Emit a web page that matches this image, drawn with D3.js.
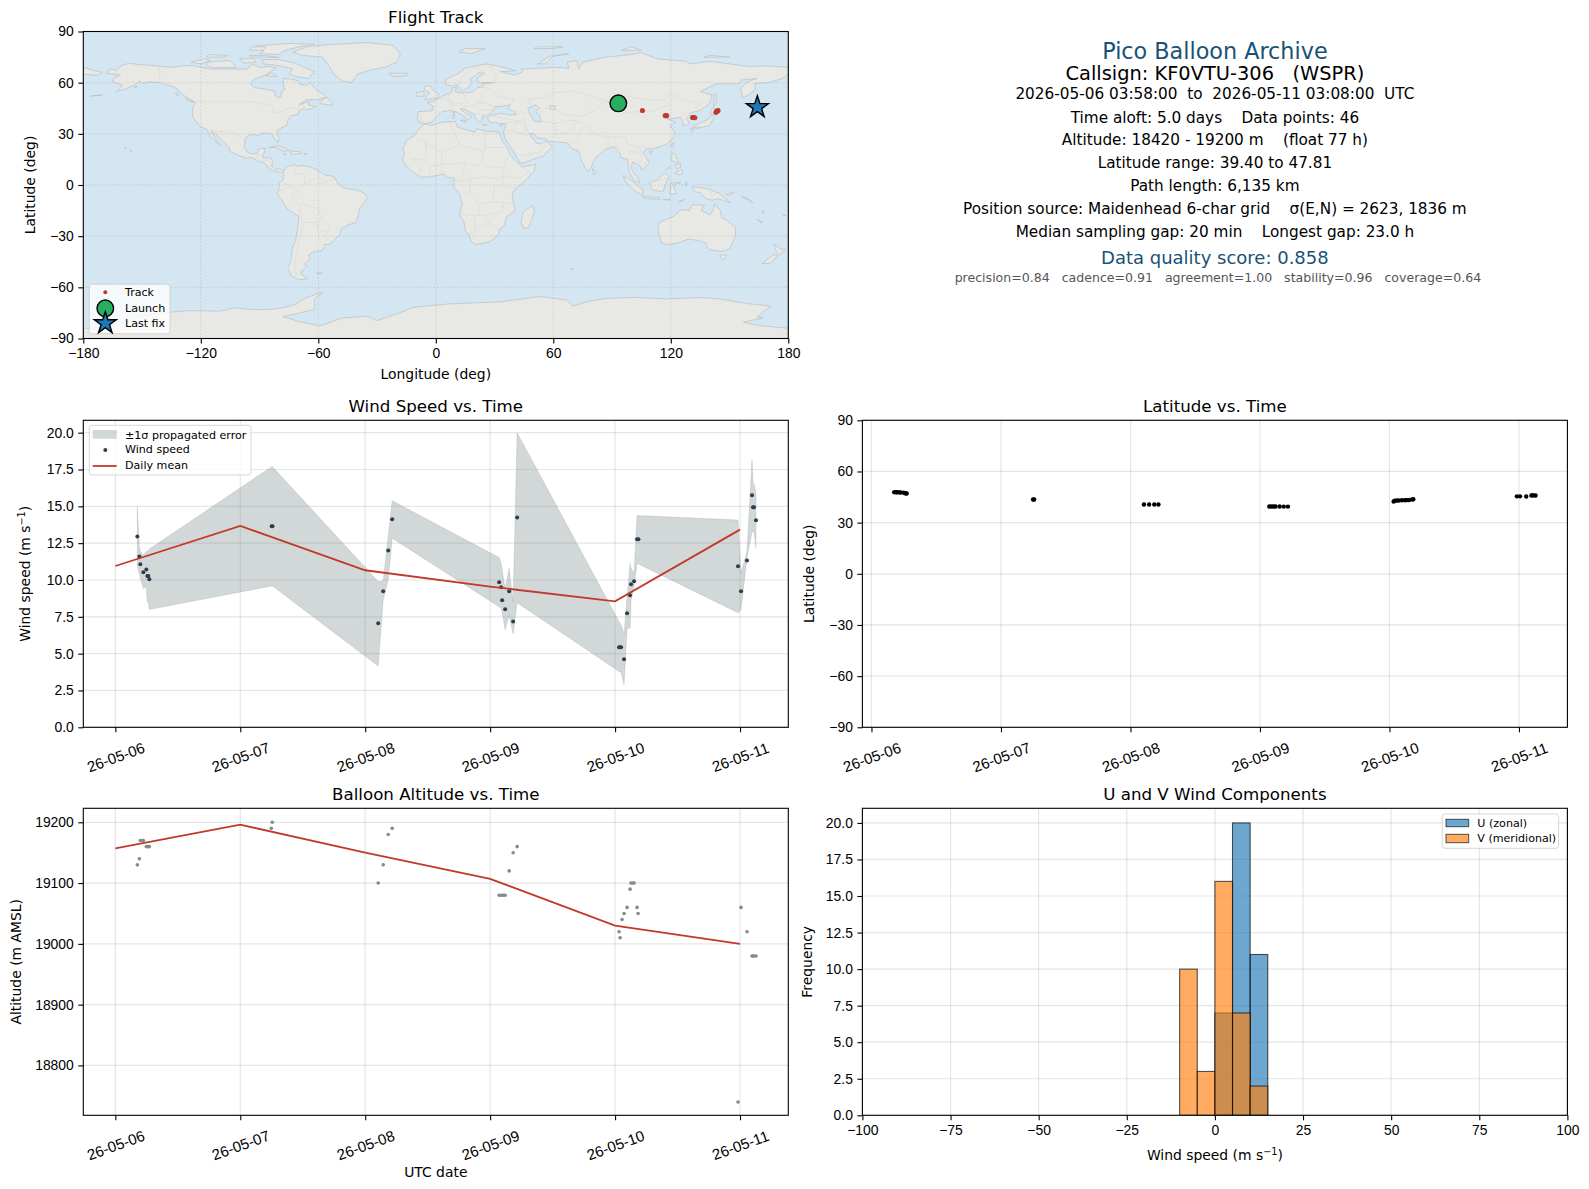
<!doctype html>
<html lang="en">
<head>
<meta charset="UTF-8">
<title>Pico Balloon Archive</title>
<script src="https://cdn.jsdelivr.net/npm/d3@7"></script>
<style>
    body { margin: 0; background: #fff; }
    svg { display: block; font-family: "DejaVu Sans", sans-serif; }
    .tick text { font-size: 13.9px; fill: #000; }
    .tick line { stroke: #000; stroke-width: 1.1; }
    .title { font-size: 16.67px; text-anchor: middle; }
    .label { font-size: 13.9px; text-anchor: middle; }
    .legend-text { font-size: 11.1px; dominant-baseline: central; }
    .info { text-anchor: middle; dominant-baseline: central; }
</style>
</head>
<body>
<svg id="fig" width="1589" height="1189"></svg>
<script>
// ---- data ----
// time is in days since 2026-05-06 00:00 UTC
const dateLabels = ["26-05-06", "26-05-07", "26-05-08", "26-05-09", "26-05-10", "26-05-11"];
const dateTicks = [0, 1, 2, 3, 4, 5];

const windTimes = [0.176, 0.192, 0.2, 0.224, 0.248, 0.256, 0.264, 0.272, 1.251, 1.258,
    2.104, 2.144, 2.184, 2.216,
    3.072, 3.088, 3.096, 3.12, 3.152, 3.184, 3.216,
    4.032, 4.04, 4.048, 4.072, 4.096, 4.12, 4.128, 4.152, 4.176, 4.187,
    4.984, 5.008, 5.056, 5.096, 5.104, 5.112, 5.128];
const windSpeed = [12.96, 11.6, 11.06, 10.52, 10.72, 10.27, 10.27, 10.05, 13.64, 13.64,
    7.06, 9.23, 12.01, 14.12,
    9.84, 9.5, 8.62, 8.01, 9.23, 7.19, 14.25,
    5.43, 5.43, 5.43, 4.62, 7.74, 8.96, 9.71, 9.91, 12.76, 12.76,
    10.93, 9.23, 11.33, 15.75, 14.93, 14.93, 14.05];
const windUpper = [14.98, 12.26, 11.97, 11.7, 11.92, 11.95, 11.95, 12.1, 17.69, 17.69,
    9.89, 9.95, 12.96, 15.38,
    11.52, 11.13, 10.68, 9.43, 10.79, 8.53, 20.0,
    7.17, 7.05, 6.95, 6.33, 8.87, 11.13, 10.79, 10.45, 14.39, 14.37,
    14.07, 10.45, 11.95, 18.19, 16.56, 16.52, 15.88];
const windLower = [10.95, 10.45, 10.11, 9.43, 9.55, 8.53, 8.53, 8.0, 9.59, 9.59,
    4.16, 8.64, 10.0, 12.83,
    8.19, 8.08, 7.85, 6.6, 7.62, 6.33, 8.46,
    3.78, 3.75, 3.73, 2.87, 6.72, 6.72, 8.64, 9.55, 11.13, 11.09,
    7.78, 7.96, 11.5, 13.28, 13.28, 13.24, 12.15];
const dailyDays = [0, 1, 2, 3, 4, 5];
const dailyWind = [10.95, 13.67, 10.66, 9.55, 8.55, 13.42];
const dailyAlt = [19157, 19196, 19150, 19107, 19030, 19000];

const fixTimes = [0.176, 0.192, 0.2, 0.216, 0.224, 0.248, 0.256, 0.264, 0.272,
    1.248, 1.256,
    2.104, 2.144, 2.184, 2.216,
    3.072, 3.088, 3.104, 3.12, 3.152, 3.184, 3.216,
    4.032, 4.04, 4.056, 4.072, 4.096, 4.12, 4.128, 4.144, 4.152, 4.176, 4.184,
    4.984, 5.008, 5.056, 5.096, 5.104, 5.112, 5.128];
const fixAlt = [19130, 19140, 19170, 19170, 19170, 19160, 19160, 19160, 19160,
    19190, 19200,
    19100, 19130, 19180, 19190,
    19080, 19080, 19080, 19080, 19120, 19150, 19160,
    19020, 19010, 19040, 19050, 19060, 19090, 19100, 19100, 19100, 19060, 19050,
    18740, 19060, 19020, 18980, 18980, 18980, 18980];
const fixLat = [47.8, 47.8, 47.8, 47.75, 47.7, 47.6, 47.3, 47.2, 47.1,
    43.6, 43.6,
    40.6, 40.6, 40.6, 40.6,
    39.45, 39.45, 39.45, 39.45, 39.45, 39.4, 39.4,
    42.4, 42.8, 43, 43, 43.1, 43.1, 43.2, 43.2, 43.3, 43.6, 43.7,
    45.4, 45.4, 45.3, 45.9, 46, 46, 45.9];
const fixLon = [92.6, 92.8, 93, 93.2, 93.4, 93.6, 93.8, 94, 94.2,
    105.4, 105.6,
    117, 117.3, 117.7, 118,
    131, 131.2, 131.4, 131.6, 131.8, 132.1, 132.4,
    143, 143.1, 143.2, 143.3, 143.4, 143.5, 143.6, 143.7, 143.8, 144, 144.2,
    163, 163.4, 163.7, 164, 164.3, 164.6, 165];
const launchFix = [93.2, 47.9];
const lastFix = [164.2, 45.6];

const binEdges = [-10, -5, 0, 5, 10, 15];
const uCounts = [0, 0, 7, 20, 11];
const vCounts = [10, 3, 16, 7, 2];

const infoText = [
    "Pico Balloon Archive",
    "Callsign: KF0VTU-306   (WSPR)",
    "2026-05-06 03:58:00  to  2026-05-11 03:08:00  UTC",
    "Time aloft: 5.0 days    Data points: 46",
    "Altitude: 18420 - 19200 m    (float 77 h)",
    "Latitude range: 39.40 to 47.81",
    "Path length: 6,135 km",
    "Position source: Maidenhead 6-char grid    σ(E,N) = 2623, 1836 m",
    "Median sampling gap: 20 min    Longest gap: 23.0 h",
    "Data quality score: 0.858",
    "precision=0.84   cadence=0.91   agreement=1.00   stability=0.96   coverage=0.64"
];

// rough coastlines, [lon, lat] pairs
const landPolygons = [
    // North America
    [[-168,65.5],[-166,68.3],[-163,67],[-161,70],[-156.5,71.3],[-150,70.5],[-141,69.7],[-135,69],[-128,70],[-124,70],[-115,68],[-108,68],[-100,68],[-96,68],[-94,71],[-90,69],[-85,69.5],[-81.5,68.5],[-85,66],[-87,64.5],[-93,62],[-94.5,59],[-92.5,57],[-88,56.5],[-82.5,55],[-82,52.5],[-80,51.3],[-79,52],[-79,54.5],[-77,56],[-78,59],[-78,62.5],[-73,62],[-70,61],[-69.5,59],[-66,58.5],[-64.5,60.3],[-61,56],[-57,53],[-56,51.5],[-60,50],[-66,50],[-70,47],[-65,49],[-65,47],[-61,46],[-64,44.5],[-66,44],[-67,45],[-70,43.5],[-70,41.7],[-74,40.5],[-75.5,38],[-76,35],[-78,34],[-81,32],[-81,30],[-80,27],[-80.5,25.2],[-81.8,26],[-82.8,28],[-84,30],[-86,30.4],[-89,30.3],[-90,29.2],[-94,29.6],[-97,28],[-97.5,25],[-97.8,22],[-96,19],[-94,18.2],[-91,18.7],[-90.5,21],[-87,21.5],[-87.8,18.3],[-88.5,16],[-84,15.8],[-83.3,14],[-83.8,11],[-82,9],[-79.5,9.5],[-77.3,8.7],[-78,7.5],[-80,7.5],[-83,8.2],[-85.5,10],[-87.5,13],[-91,14],[-94,16],[-97,15.8],[-101,17.5],[-105,19.5],[-105.5,22],[-109,26],[-112.5,30],[-114.7,31.5],[-113,28],[-110,23],[-112,25],[-115,28],[-117,32.5],[-120.5,34.5],[-122.5,37.5],[-124.3,40.5],[-124,46],[-122.5,48],[-125,50],[-128,52],[-130.5,54.5],[-133,57],[-137,58.5],[-140,59.8],[-146,60.5],[-150,59.5],[-151,61],[-154,58.5],[-158,56.5],[-163,54.8],[-160,58.5],[-165,60.5],[-164,63],[-161,64.5]],
    // Greenland
    [[-73,78],[-66,81],[-55,82.3],[-35,83.5],[-22,82],[-18,77],[-20,72],[-26,69],[-33,67.5],[-40,65],[-43,60],[-48,61],[-52,65],[-54,69],[-58,75],[-68,76]],
    // Canadian arctic
    [[-80,73.5],[-72,71.5],[-68,69.5],[-62,66.5],[-65,62.5],[-71,63.5],[-75,65],[-73,68],[-80,70],[-88,71],[-89,73.5]],
    [[-117,72],[-105,73],[-102,69],[-114,68.8],[-117,70]],
    [[-90,77],[-80,76.5],[-78,78.5],[-70,81],[-62,82.5],[-75,83],[-92,81.5],[-88,78.5]],
    [[-125,72],[-118,74],[-115,73],[-120,71]],
    [[-95,75],[-85,75],[-80,74.7],[-88,76],[-95,76]],
    [[-117,75],[-108,75],[-106,76],[-116,76.5]],
    [[-95,79],[-88,79],[-87,81],[-94,81]],
    [[-100,74],[-93,74],[-92,72],[-98,71.5]],
    [[-87,64],[-81,63.5],[-84,65.8]],
    [[-59,47.7],[-53,46.7],[-53,48.5],[-56,51.5],[-59,48.5]],
    [[-128,50.8],[-123.5,48.4],[-125,48.7]],
    [[-133,54],[-131.5,54],[-131.5,52],[-132,52.5]],
    // Caribbean, Pacific odds and ends
    [[-85,22],[-80,23],[-75,20.5],[-74.5,20],[-78,20],[-82,22]],
    [[-74,19.8],[-69,19.5],[-68.5,18.5],[-74,18]],
    [[-78,18.4],[-76.3,18],[-77.5,17.8]],
    [[-67,18.5],[-65.7,18.4],[-67,18]],
    [[-156,20.6],[-155,19.8],[-155.6,19]],
    [[-159,22],[-157.8,21.5],[-158.2,21.3]],
    [[-176,52],[-170,52.8],[-176,52.4]],
    [[-154,57.5],[-152.5,58],[-153,57]],
    // South America
    [[-77.3,8.7],[-75.5,11],[-72,12],[-71,11],[-68,11.5],[-64,10.5],[-60,8.5],[-57,6],[-52,5],[-50,1],[-48,-1],[-44,-2.5],[-40,-3],[-36,-5],[-35,-8],[-37,-11],[-39,-14],[-39.5,-18],[-41,-22],[-45,-23.5],[-48.5,-26],[-49,-29],[-52,-32.5],[-54,-34.5],[-57,-35],[-57,-36.5],[-58,-38.5],[-62,-39],[-65,-41],[-64,-43],[-67,-46],[-66,-48],[-69,-51],[-68,-53],[-65.5,-55],[-70,-55.5],[-74,-53],[-75.5,-49],[-74,-44],[-73.5,-38],[-71.5,-32],[-70.5,-25],[-70,-18.5],[-76,-14],[-79,-8],[-81,-5],[-80,-2],[-80,1],[-78,3],[-77.5,6],[-78,7.5]],
    [[-61,-51.5],[-58,-51.5],[-59,-52.3]],
    // Africa
    [[-6,35.8],[-2,35],[3,36.8],[10,37.3],[11,34],[15,32.5],[20,31],[21,33],[25,31.7],[32,31.2],[32.5,30],[34,26],[37,21],[38,18],[40,15],[43,12],[44,10.5],[51,12],[50,8],[46,3],[41,-2],[39,-5],[39.5,-10],[40.5,-15],[36,-19],[35,-24],[32.5,-26],[32,-29],[28,-33],[25,-34],[20,-34.8],[18,-33],[17,-29],[15,-27],[14.5,-22],[12,-17],[13.5,-11],[12,-5],[9,-1],[9.5,4],[6,4.5],[4,6.4],[-2,5],[-7.5,4.5],[-11,7],[-15,11],[-17,14.7],[-16,19],[-17,21],[-15,26],[-11,29],[-9.5,31.5]],
    [[49.3,-12],[50.5,-15.5],[47.5,-25],[45,-25.5],[43.5,-22],[44.5,-16]],
    // Eurasia
    [[-9,37],[-9.5,39],[-9,43],[-2,43.5],[-1,46],[-4.5,48.4],[-1.5,49],[2,51],[5,53],[8,54],[8.5,57],[10.5,57.5],[10,54.5],[14,54],[19,54.5],[21,57],[24,57.5],[24,59.3],[30,60],[23,60],[21,61],[21.5,63],[25,65.5],[22,65.8],[17.5,62],[18.5,60],[16.5,57],[14,55.5],[12.5,56],[11,59],[8,58],[5,59],[5,62],[11,65],[15,68.5],[21,70],[26,71],[31,70],[41,67],[33,66.5],[40,64.5],[44,66],[44,68],[54,68.5],[60,69],[68,68.5],[67,72],[72,73],[73,68],[75,72],[81,73.5],[87,75],[100,76.5],[105,77.7],[113,74],[128,72.5],[130,71],[140,72.5],[150,71],[160,69.5],[170,69.8],[180,69],[180,65],[177,62.5],[170,60],[163,59.5],[163,56],[160,53],[156.5,51],[155.7,57],[160,61],[164,62.5],[156,61.5],[155,59.3],[143,59.3],[135,54.7],[141,53],[140,48],[135,43.7],[130.5,42.5],[128,39],[129.5,36],[126.5,34.5],[126,37],[125,39.7],[121.5,39],[118,39],[121,37.5],[122.5,36.8],[119.5,35],[122,31],[121.5,28],[118,24],[114,22.3],[110,21],[108,21.5],[106,19],[109,13],[107,10.5],[105,8.7],[105,10.5],[100.5,13.5],[99.5,10],[103.3,4],[104,1.3],[101,3],[98.5,8],[98,15],[94.5,16],[94,19],[91,22.5],[87,21],[82,16.5],[80,13],[79.5,10],[77.5,8],[74.5,14],[72.8,20],[70,21],[67,24.8],[61,25.2],[57,25.8],[56.5,27],[52,27.5],[50,30],[48,30],[50,26.5],[51.5,24.5],[54,24],[56.3,26],[59.5,22.5],[55,17],[52,16],[45,13],[43,13],[39,21],[35,28],[34.5,31],[36,36],[32,36.2],[27.5,36.7],[26.3,39.5],[29,41],[33,42],[38,41],[41.5,41.5],[37,45],[38,47],[33,46],[30.5,46],[28,42],[26,40.7],[23.5,40],[24,38],[22.5,36.5],[20,39.5],[19.5,41.5],[14,45],[12.5,44.5],[16,41.5],[18.5,40],[16,38],[15,40],[10.5,43],[7,43.7],[3,43],[0,39.5],[-2,36.8],[-5.5,36]],
    [[-180,69],[-175,67.3],[-170,66],[-173,64.3],[-180,65]],
    // European islands
    [[-5.5,50],[1,51.3],[1.5,53],[-2,56],[-2,57.7],[-5,58.5],[-6,56],[-3,54],[-5,52]],
    [[-10,52],[-6,52.2],[-6,55],[-10,54]],
    [[-24,65.5],[-14,65.5],[-15,64],[-22,63.7]],
    [[12.5,38],[15.5,38],[15,36.7]],
    [[8.3,41],[9.7,41],[9.5,39],[8.5,39]],
    [[8.7,43],[9.5,42.8],[9.3,41.5]],
    [[23.5,35.5],[26.3,35.2],[24.5,35]],
    [[32.5,35],[34.5,35.6],[33.5,34.7]],
    // Russian arctic
    [[12,78],[18,77],[25,80],[15,80]],
    [[52,71],[56,71],[60,75.5],[68,77],[58,75.5]],
    [[95,79],[105,79],[100,81]],
    [[137,75],[145,75],[150,75],[140,76]],
    [[50,80],[60,80],[65,81],[52,81]],
    [[142,46],[143.5,49],[143,54],[142,53],[142,48]],
    // Japan, east Asia
    [[130.9,34],[135,33.5],[140,35],[142,39.5],[141,41.3],[139.8,39],[136.5,37],[132,35]],
    [[140,42],[141.5,45.4],[145.5,43.3],[143,42]],
    [[130,33],[132,33],[131,31]],
    [[132.5,34],[134.5,34.2],[133,33]],
    [[120,23],[121.5,25],[121,22]],
    [[108.8,19.5],[110.5,20],[110,18.3]],
    [[80,9.7],[82,7],[80.5,6]],
    // Maritime south-east Asia
    [[95.5,5.5],[100,2.5],[106,-3],[105.5,-6],[101,-3],[97,2]],
    [[105.5,-6.5],[114.5,-7.5],[114,-8.7],[106,-7.5]],
    [[109,1.5],[113,3],[117,7],[119,5],[117.5,1],[116,-4],[111,-3],[109.5,0]],
    [[119.5,-5.5],[120,1],[125,1.5],[121,0],[123,-5]],
    [[131,-1],[138,-2],[145,-5],[150.5,-10.5],[144,-8],[141,-9],[138,-8],[135,-4.5],[132,-4]],
    [[120.5,18.5],[122,18.5],[124,13],[120.5,14]],
    [[122,7],[125.5,9.5],[126,6.5],[124,6]],
    [[122,11.5],[125,12.5],[125,10.5],[123,9.5]],
    [[117.5,8.5],[119.5,11],[118,9]],
    [[124,-9.5],[127,-8.5],[124,-10.3]],
    [[116,-8.5],[120,-8.4],[119,-9]],
    [[127.5,2],[128.5,1],[127.8,-0.8]],
    [[148,-5.5],[152.5,-4.2],[150,-6.3]],
    // Pacific islands
    [[156,-6.5],[160,-9],[162,-10.5],[159,-8]],
    [[166.5,-15],[168,-16.5],[167,-16]],
    [[164,-20],[167,-22.2],[166,-22]],
    [[177.5,-17.5],[178.6,-18],[177.5,-18.2]],
    // Australia, New Zealand
    [[114,-22],[113.5,-26],[115,-34],[118,-35],[123.5,-34],[129,-31.7],[134,-32.5],[138,-34],[138,-35.5],[140,-38],[146,-39],[150,-37.5],[153,-30],[153,-25],[149,-21],[146,-19],[145.3,-15],[142.5,-11],[141.5,-15],[140,-17.5],[135.5,-15],[137,-12],[131,-11.5],[129.5,-15],[125,-14.5],[122,-18],[117,-20.5]],
    [[145,-41],[148.3,-41],[147.5,-43.5],[146,-43.5]],
    [[172.7,-34.5],[176,-37.5],[178.5,-37.7],[175.3,-41.5],[174,-39.5]],
    [[172.7,-40.5],[174.3,-41.7],[170.7,-46],[166.5,-46],[170,-43]],
    [[69,-49],[70.5,-49],[70,-49.7]],
    // Antarctica, closed along the bottom edge
    [[-180,-90],[-180,-84],[-165,-84],[-158,-80],[-150,-77],[-140,-75],[-127,-73.7],[-120,-73.7],[-110,-74],[-103,-72],[-95,-73],[-85,-73],[-78,-72],[-72,-70],[-67,-66.5],[-60,-63.5],[-57.5,-63.3],[-60,-65],[-62,-67],[-62,-70],[-62,-73],[-78,-77.2],[-70,-80],[-59,-82.6],[-48,-78],[-35,-77],[-30,-79.5],[-18,-74.8],[-11.6,-71.7],[7,-69.7],[33,-68.5],[53,-65.4],[67,-67.4],[70,-71],[77,-68.5],[87,-66.5],[102,-65.9],[118,-66.8],[135,-66],[145,-66.8],[159,-69.5],[171,-71],[167,-74.5],[164,-77.5],[167,-78],[157,-80.5],[166,-82.5],[180,-84],[180,-90]]
];
const lakePolygons = [
    [[47,45],[51,47],[53,45],[51,43],[53,41],[54,37],[50,37.5],[49,40],[47.5,43]],
    [[58,46.5],[61,46.5],[61,44],[58.5,44.5]]
];
const borderLines = [
    [[-123,49],[-95,49],[-89,48],[-84,46.5],[-82.5,42],[-79,43],[-75,45],[-71,45],[-68,47.3],[-67,45]],
    [[-141,69.7],[-141,60.3],[-135,59],[-130,55]],
    [[-117,32.5],[-111,31.3],[-106.5,31.7],[-101,29.5],[-97.5,26]],
    [[-92,14.5],[-91,17.8],[-89,17.9],[-88.5,16]],[[-89,14],[-83.5,15]],[[-85.5,11],[-83.7,11]],[[-83,8.5],[-82.5,9.5]],
    [[-72,12],[-72,7],[-67,6],[-67,1],[-70,-4],[-74,-7],[-70,-11],[-69,-16],[-70,-18]],
    [[-78,1.5],[-75,0],[-70,-4]],[[-80,-3.5],[-75,-1]],[[-60,8],[-60,5],[-57,2]],[[-52,4],[-55,2],[-60,1]],[[-67,1],[-60,5]],
    [[-69,-11],[-60,-14],[-58,-20],[-54,-25],[-57,-30],[-53,-33.5]],[[-68,-22],[-62,-22],[-58,-20]],
    [[-69,-18],[-68,-24],[-70,-33],[-72,-45],[-72,-52],[-68,-52.5]],[[-62,-22],[-58,-27],[-54,-26]],
    [[-9,27.5],[-5,25],[3,19],[12,23.5],[10,30],[8,33],[8,37]],[[25,20],[25,31.5]],[[25,22],[36,22]],
    [[14,23],[24,20],[24,15],[22,11],[15,13],[14,7],[10,2.3]],[[3,12],[3,19]],[[-12,15],[-5,15],[-5,25]],
    [[-12,15],[-8,10],[-8,4.5]],[[-3,5],[-3,11],[3,12],[14,13]],[[3,6.5],[3,12]],[[24,11],[34,10],[36,15],[38,18]],
    [[34,10],[35,5],[42,4],[48,8],[43,11]],[[35,5],[34,-1],[30,-1],[29,-5],[30,-10],[22,-11],[22,-18],[12,-17]],
    [[34,-1],[41,-2]],[[30,-10],[40,-11]],[[22,-18],[25,-18],[33,-16],[35,-11]],[[20,-18],[20,-28],[17,-29]],
    [[25,-18],[27,-22],[32,-26]],[[27,-22],[20,-25]],[[12,-5],[17,-5],[22,-11]],[[18,3.5],[14,2.5],[10,2.3]],
    [[18,3.5],[17,-5]],[[18,3.5],[24,5],[31,3.5],[35,5]],
    [[-2,43.5],[3,42.5]],[[-9,42],[-7,37]],[[2.5,51],[8,49],[7,44]],[[7,54],[6,51],[8,49]],
    [[14,54],[15,51],[17,48.5],[10,47.5],[7,47.5]],[[14,46.5],[17,46],[22,48],[24,48],[30,46]],
    [[23,54],[24,50.5],[22,48]],[[24,57.7],[28,56],[32,52],[40,50],[38,47]],[[28,60],[30,60],[31,63],[29,69],[26,70]],
    [[12,59],[14,64],[20,69],[25,66]],[[19.5,42],[22,41.5],[26,41]],[[22,44],[28.5,44]],[[26,41],[45,37]],
    [[36,36.5],[42,37],[45,39]],[[42,37],[48,30]],[[36,32],[39,32],[47,29]],[[39,32],[42,37]],[[35,29.5],[36,32]],
    [[43,17],[52,19],[55,22],[56,25]],[[52,19],[53,16]],[[47,42],[40,43.5]],
    [[49,46],[47,50],[55,51],[61,54],[71,55],[77,53],[87,49]],[[87,49],[80,43],[74,40]],
    [[53,42],[56,45],[61,44],[66,41],[70,41],[74,40]],[[54,37.5],[61,36],[66,37.5],[71,38],[74,37]],
    [[61,36],[61,30],[63,26]],[[61,30],[66,30],[70,33],[71,36],[74,37]],[[45,39],[46,34],[48,30]],
    [[68,23.8],[71,25],[74,31],[75,34],[78,35]],[[78,35],[79,31],[81,30],[88,28],[92,28],[97,28],[98,24],[102,22],[106,23],[108,21.5]],
    [[88,28],[88,22]],[[92,25],[92,21]],[[98,18],[100,20],[105,18],[105,14],[102.5,12]],[[100,6.5],[102,6]],
    [[87,49],[98,42.5],[111,43.5],[120,47],[116,50]],[[87,49],[98,52],[107,50],[116,50],[120,53.5],[127,50],[135,48],[131,43]],
    [[124,40],[130,42.5]],[[125,38],[128.5,38.5]],[[109,1.5],[115,3],[117.5,4]],[[141,-2.6],[141,-9]],[[103,22],[108,15],[106,11]]
];

const lonTicks = [-180, -120, -60, 0, 60, 120, 180];
const latTicks = [-90, -60, -30, 0, 30, 60, 90];
const windTicks = [0, 2.5, 5, 7.5, 10, 12.5, 15, 17.5, 20];
const altTicks = [18800, 18900, 19000, 19100, 19200];
const histXTicks = [-100, -75, -50, -25, 0, 25, 50, 75, 100];
const histYTicks = [0, 2.5, 5, 7.5, 10, 12.5, 15, 17.5, 20];

// ---- colours ----
const red = "#c0392b", navy = "#2c3e50", grey = "#7f8c8d";
const uColor = "#1f77b4", vColor = "#ff7f0e";

// ---- layout ----
const svg = d3.select("#fig");
const colX = [83.3, 862.4], rowY = [31.5, 420.3, 808.3];
const W = 705, H = 307;

let clipCount = 0;
// one subplot: gridlines, ticks and a title; returns the clipped layer for the marks
function panel(x, y, xScale, yScale, xTicks, yTicks, xFormat, yFormat, titleText, rotated) {
    const g = svg.append("g").attr("transform", `translate(${x},${y})`);
    const id = "clip" + (clipCount++);
    g.append("clipPath").attr("id", id).append("rect").attr("width", W).attr("height", H);

    const grid = g.append("g");
    const marks = g.append("g").attr("clip-path", `url(#${id})`);

    const xAxis = g.append("g").attr("transform", `translate(0,${H})`)
        .call(d3.axisBottom(xScale).tickValues(xTicks).tickFormat(xFormat).tickSize(5).tickPadding(4.5));
    const yAxis = g.append("g")
        .call(d3.axisLeft(yScale).tickValues(yTicks).tickFormat(yFormat).tickSize(5).tickPadding(4.5));
    xAxis.select(".domain").remove();
    yAxis.select(".domain").remove();
    if (rotated) {
        xAxis.selectAll("text")
            .attr("y", 0).attr("dy", "0.35em")
            .style("font-size", "15px")
            .attr("transform", "translate(0,30) rotate(-20)");
    }

    g.append("rect").attr("width", W).attr("height", H)
        .attr("fill", "none").attr("stroke", "#000").attr("stroke-width", 1.1);
    g.append("text").attr("class", "title").attr("x", W / 2).attr("y", -8.5).text(titleText);

    g.grid = grid;
    g.marks = marks;
    g.drawGrid = function (stroke, width, opacity, dash, layer) {
        const target = layer || grid;
        target.selectAll(".gx").data(xTicks).enter().append("line").attr("class", "gx")
            .attr("x1", d => xScale(d)).attr("x2", d => xScale(d)).attr("y1", 0).attr("y2", H)
            .attr("stroke", stroke).attr("stroke-width", width).attr("stroke-opacity", opacity).attr("stroke-dasharray", dash);
        target.selectAll(".gy").data(yTicks).enter().append("line").attr("class", "gy")
            .attr("x1", 0).attr("x2", W).attr("y1", d => yScale(d)).attr("y2", d => yScale(d))
            .attr("stroke", stroke).attr("stroke-width", width).attr("stroke-opacity", opacity).attr("stroke-dasharray", dash);
    };
    return g;
}

// mpl style y label with the -1 superscript where needed
function yLabel(g, text, sup, offset) {
    const t = g.append("text").attr("class", "label")
        .attr("transform", `translate(${offset},${H / 2}) rotate(-90)`).text(text);
    if (sup) {
        t.append("tspan").attr("dy", -5).attr("font-size", 9.7).text("−1");
        t.append("tspan").attr("dy", 5).text(")");
    }
}

function legendBox(g, x, y, w, h) {
    g.append("rect").attr("x", x).attr("y", y).attr("width", w).attr("height", h).attr("rx", 2.5)
        .attr("fill", "#fff").attr("fill-opacity", 0.8).attr("stroke", "#ccc").attr("stroke-opacity", 0.8).attr("stroke-width", 1);
}
function legendText(g, x, y, text) {
    g.append("text").attr("class", "legend-text").attr("x", x).attr("y", y).text(text);
}

const dateFormat = (d, i) => dateLabels[i];
const intFormat = d3.format("d");
const oneDec = d3.format(".1f");

// ---- flight track ----
const lonScale = d3.scaleLinear().domain([-180, 180]).range([0, W]);
const latScale = d3.scaleLinear().domain([-90, 90]).range([H, 0]);
const mapPanel = panel(colX[0], rowY[0], lonScale, latScale, lonTicks, latTicks, intFormat, intFormat, "Flight Track");
const geoLine = d3.line().x(d => lonScale(d[0])).y(d => latScale(d[1]));
mapPanel.marks.append("rect").attr("width", W).attr("height", H).attr("fill", "#d4e6f1");
mapPanel.marks.selectAll(".land").data(landPolygons).enter().append("path").attr("class", "land")
    .attr("d", d => geoLine(d) + "Z").attr("fill", "#e8e8e4").attr("stroke", "#b9c0c5").attr("stroke-width", 0.7);
mapPanel.marks.selectAll(".lake").data(lakePolygons).enter().append("path").attr("class", "lake")
    .attr("d", d => geoLine(d) + "Z").attr("fill", "#d4e6f1").attr("stroke", "#b9c0c5").attr("stroke-width", 0.7);
mapPanel.marks.selectAll(".border").data(borderLines).enter().append("path").attr("class", "border")
    .attr("d", geoLine).attr("fill", "none").attr("stroke", "#dcdcd8").attr("stroke-width", 0.8);
mapPanel.drawGrid("#808080", 0.6, 0.32, "2,1.5", mapPanel.marks.append("g"));
mapPanel.marks.selectAll(".track").data(d3.zip(fixLon, fixLat)).enter().append("circle").attr("class", "track")
    .attr("cx", d => lonScale(d[0])).attr("cy", d => latScale(d[1])).attr("r", 2.4).attr("fill", red).attr("fill-opacity", 0.9);
mapPanel.append("circle").attr("cx", lonScale(launchFix[0])).attr("cy", latScale(launchFix[1])).attr("r", 8.3)
    .attr("fill", "#27ae60").attr("stroke", "#000").attr("stroke-width", 1.4);
const starPath = d3.symbol().type(d3.symbolStar).size(150);
mapPanel.append("path").attr("d", starPath)
    .attr("transform", `translate(${lonScale(lastFix[0])},${latScale(lastFix[1])})`)
    .attr("fill", "#1f77b4").attr("stroke", "#000").attr("stroke-width", 1.4);
mapPanel.append("text").attr("class", "label").attr("x", W / 2).attr("y", H + 40).text("Longitude (deg)");
yLabel(mapPanel, "Latitude (deg)", false, -48);
// legend
legendBox(mapPanel, 6, 252.7, 80.7, 49.5);
mapPanel.append("circle").attr("cx", 22).attr("cy", 260.8).attr("r", 2).attr("fill", red);
mapPanel.append("circle").attr("cx", 22).attr("cy", 276.8).attr("r", 8.3).attr("fill", "#27ae60").attr("stroke", "#000").attr("stroke-width", 1.4);
mapPanel.append("path").attr("d", starPath).attr("transform", "translate(22,291.8)").attr("fill", "#1f77b4").attr("stroke", "#000").attr("stroke-width", 1.4);
legendText(mapPanel, 41.7, 260.8, "Track");
legendText(mapPanel, 41.7, 276.8, "Launch");
legendText(mapPanel, 41.7, 291.8, "Last fix");

// ---- summary text ----
const infoY = [50.7, 73, 94, 117.5, 140.4, 163, 186, 209, 232, 257, 277.7];
const infoSize = [22.3, 19.4, 15.28, 15.28, 15.28, 15.28, 15.28, 15.28, 15.28, 18, 12.55];
const infoColor = ["#1a5276", "#000", "#000", "#000", "#000", "#000", "#000", "#000", "#000", "#1a5276", "#555"];
const infoShift = [0, 0, 0, 0, 0, 0, 0, 0, 0, 0, 3];
svg.selectAll(".info").data(infoText).enter().append("text").attr("class", "info")
    .attr("x", (d, i) => colX[1] + W / 2 + infoShift[i]).attr("y", (d, i) => infoY[i])
    .attr("font-size", (d, i) => infoSize[i]).attr("fill", (d, i) => infoColor[i])
    .attr("xml:space", "preserve").style("white-space", "pre").text(d => d);

// ---- wind speed ----
const tPad = [-0.2565, 5.3865];
const timeWide = d3.scaleLinear().domain(tPad).range([0, W]);
const windY = d3.scaleLinear().domain([0, 20.84]).range([H, 0]);
const windPanel = panel(colX[0], rowY[1], timeWide, windY, dateTicks, windTicks, dateFormat, oneDec, "Wind Speed vs. Time", true);
windPanel.drawGrid("#b0b0b0", 1.2, 0.32, null);
const band = d3.area().x(d => timeWide(d[0])).y0(d => windY(d[2])).y1(d => windY(d[1]));
windPanel.marks.append("path").attr("d", band(d3.zip(windTimes, windUpper, windLower)))
    .attr("fill", grey).attr("fill-opacity", 0.35).attr("stroke", grey).attr("stroke-opacity", 0.2).attr("stroke-width", 1);
windPanel.marks.selectAll(".dot").data(d3.zip(windTimes, windSpeed)).enter().append("circle").attr("class", "dot")
    .attr("cx", d => timeWide(d[0])).attr("cy", d => windY(d[1])).attr("r", 2).attr("fill", navy);
windPanel.marks.append("path")
    .attr("d", d3.line().x(d => timeWide(d[0])).y(d => windY(d[1]))(d3.zip(dailyDays, dailyWind)))
    .attr("fill", "none").attr("stroke", red).attr("stroke-width", 1.8);
yLabel(windPanel, "Wind speed (m s", true, -53);
legendBox(windPanel, 6, 5, 161.7, 49.7);
windPanel.append("rect").attr("x", 9.4).attr("y", 9.7).attr("width", 24).attr("height", 8.7).attr("fill", grey).attr("fill-opacity", 0.35);
windPanel.append("circle").attr("cx", 22).attr("cy", 29.7).attr("r", 2).attr("fill", navy);
windPanel.append("line").attr("x1", 9.4).attr("x2", 33.4).attr("y1", 45.7).attr("y2", 45.7).attr("stroke", red).attr("stroke-width", 1.8);
legendText(windPanel, 41.7, 15, "±1σ propagated error");
legendText(windPanel, 41.7, 29.7, "Wind speed");
legendText(windPanel, 41.7, 45.7, "Daily mean");

// ---- latitude ----
const timeNarrow = d3.scaleLinear().domain([-0.07, 5.374]).range([0, W]);
const latPanel = panel(colX[1], rowY[1], timeNarrow, latScale, dateTicks, latTicks, dateFormat, intFormat, "Latitude vs. Time", true);
latPanel.drawGrid("#b0b0b0", 1.2, 0.32, null);
latPanel.marks.selectAll(".dot").data(d3.zip(fixTimes, fixLat)).enter().append("circle").attr("class", "dot")
    .attr("cx", d => timeNarrow(d[0])).attr("cy", d => latScale(d[1])).attr("r", 2.2).attr("fill", "#000");
yLabel(latPanel, "Latitude (deg)", false, -48);

// ---- altitude ----
const altY = d3.scaleLinear().domain([18718, 19223]).range([H, 0]);
const altPanel = panel(colX[0], rowY[2], timeWide, altY, dateTicks, altTicks, dateFormat, intFormat, "Balloon Altitude vs. Time", true);
altPanel.drawGrid("#b0b0b0", 1.2, 0.32, null);
altPanel.marks.selectAll(".dot").data(d3.zip(fixTimes, fixAlt)).enter().append("circle").attr("class", "dot")
    .attr("cx", d => timeWide(d[0])).attr("cy", d => altY(d[1])).attr("r", 1.8).attr("fill", grey);
altPanel.marks.append("path")
    .attr("d", d3.line().x(d => timeWide(d[0])).y(d => altY(d[1]))(d3.zip(dailyDays, dailyAlt)))
    .attr("fill", "none").attr("stroke", red).attr("stroke-width", 1.8);
yLabel(altPanel, "Altitude (m AMSL)", false, -62);
altPanel.append("text").attr("class", "label").attr("x", W / 2).attr("y", H + 62).text("UTC date");

// ---- wind component histogram ----
const histX = d3.scaleLinear().domain([-100, 100]).range([0, W]);
const histY = d3.scaleLinear().domain([0, 21]).range([H, 0]);
const histPanel = panel(colX[1], rowY[2], histX, histY, histXTicks, histYTicks, intFormat, oneDec, "U and V Wind Components");
histPanel.drawGrid("#b0b0b0", 1.2, 0.32, null);
function bars(counts, color) {
    histPanel.marks.append("g").selectAll("rect").data(counts.map((c, i) => [binEdges[i], binEdges[i + 1], c]).filter(d => d[2] > 0))
        .enter().append("rect")
        .attr("x", d => histX(d[0])).attr("width", d => histX(d[1]) - histX(d[0]))
        .attr("y", d => histY(d[2])).attr("height", d => H - histY(d[2]))
        .attr("fill", color).attr("fill-opacity", 0.65)
        .attr("stroke", "#000").attr("stroke-opacity", 0.65).attr("stroke-width", 1.1);
}
bars(uCounts, uColor);
bars(vCounts, vColor);
const histLabel = histPanel.append("text").attr("class", "label").attr("x", W / 2).attr("y", H + 45).text("Wind speed (m s");
histLabel.append("tspan").attr("dy", -5).attr("font-size", 9.7).text("−1");
histLabel.append("tspan").attr("dy", 5).text(")");
yLabel(histPanel, "Frequency", false, -50);
legendBox(histPanel, 579.9, 5.7, 116.3, 34.3);
histPanel.append("rect").attr("x", 583.6).attr("y", 11).attr("width", 22.7).attr("height", 7.4)
    .attr("fill", uColor).attr("fill-opacity", 0.65).attr("stroke", "#000").attr("stroke-opacity", 0.65);
histPanel.append("rect").attr("x", 583.6).attr("y", 26).attr("width", 22.7).attr("height", 8.4)
    .attr("fill", vColor).attr("fill-opacity", 0.65).attr("stroke", "#000").attr("stroke-opacity", 0.65);
legendText(histPanel, 614.9, 15.7, "U (zonal)");
legendText(histPanel, 614.9, 30.7, "V (meridional)");
</script>
</body>
</html>
